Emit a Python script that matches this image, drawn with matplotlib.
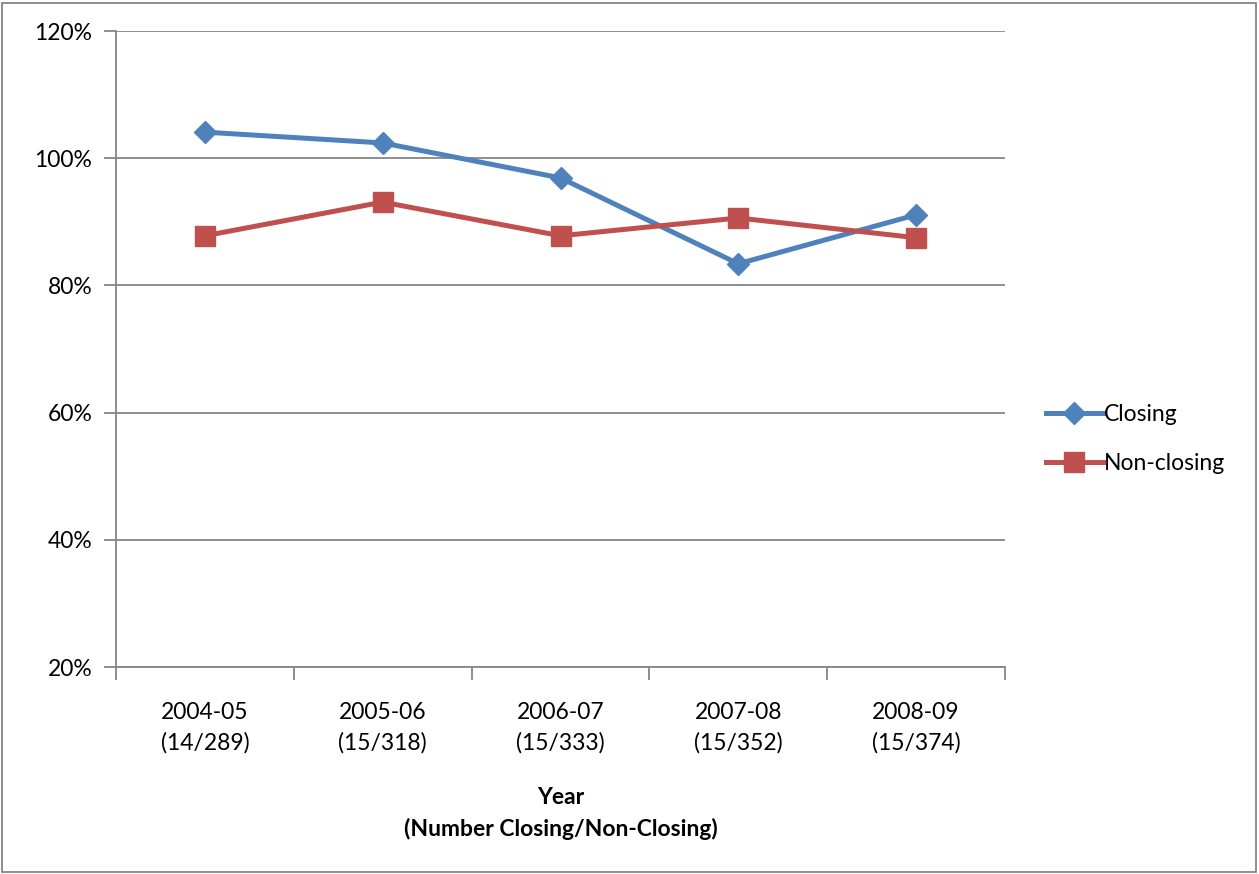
import matplotlib
matplotlib.use("Agg")
import matplotlib.pyplot as plt
from matplotlib.patches import Rectangle

plt.rcParams['font.family'] = ['Lato', 'DejaVu Sans']

years = ["2004-05", "2005-06", "2006-07", "2007-08", "2008-09"]
counts = ["(14/289)", "(15/318)", "(15/333)", "(15/352)", "(15/374)"]
closing = [104.1, 102.4, 96.9, 83.4, 91.1]
non_closing = [87.8, 93.1, 87.8, 90.6, 87.5]
y_ticks = [20, 40, 60, 80, 100, 120]

blue = "#4F81BD"
red = "#C0504D"
grey = "#868686"
FS = 16.5

W, H = 1259, 874
fig = plt.figure(figsize=(W / 100, H / 100), dpi=100)
ax = fig.add_axes([116 / W, 1 - 667 / H, (1005 - 116) / W, (667 - 31) / H])

x = list(range(len(years)))
ax.plot(x, closing, color=blue, lw=3.6, marker="D", ms=11.5, mec=blue, mfc=blue,
        label="Closing", zorder=3)
ax.plot(x, non_closing, color=red, lw=3.6, marker="s", ms=14, mec=red, mfc=red,
        label="Non-closing", zorder=3)

ax.set_xlim(-0.5, len(years) - 0.5)
ax.set_ylim(20, 120)
ax.set_yticks(y_ticks)
ax.set_yticklabels([f"{v}%" for v in y_ticks])
ax.yaxis.grid(True, color=grey, lw=1.3)
ax.set_axisbelow(True)

# category boundaries carry the tick marks; labels sit at the centres
ax.set_xticks([i - 0.5 for i in range(len(years) + 1)])
ax.set_xticklabels([])
ax.set_xticks(x, minor=True)
ax.set_xticklabels([f"{y}\n{c}" for y, c in zip(years, counts)], minor=True,
                   fontsize=FS, linespacing=1.55)
ax.tick_params(axis="x", which="minor", length=0, pad=25)
ax.tick_params(axis="x", which="major", length=9, width=1.3, color=grey, direction="out")
ax.tick_params(axis="y", length=9, width=1.3, color=grey, direction="out",
               labelsize=FS, pad=8)

for side in ("top", "right"):
    ax.spines[side].set_visible(False)
for side in ("left", "bottom"):
    ax.spines[side].set_color(grey)
    ax.spines[side].set_linewidth(1.3)

ax.set_xlabel("Year\n(Number Closing/Non-Closing)", fontsize=FS, fontweight="bold",
              linespacing=1.55, labelpad=24)

ax.legend(loc="center left", bbox_to_anchor=(1025 / W, 1 - 439 / H),
          bbox_transform=fig.transFigure, frameon=False, fontsize=FS,
          handlelength=2.5, handletextpad=0.05, labelspacing=1.2)

fig.patches.append(Rectangle((2 / W, 2 / H), (W - 5) / W, (H - 5) / H,
                             transform=fig.transFigure, fill=False,
                             edgecolor=grey, lw=1.3))

fig.savefig("out.png", dpi=100)
